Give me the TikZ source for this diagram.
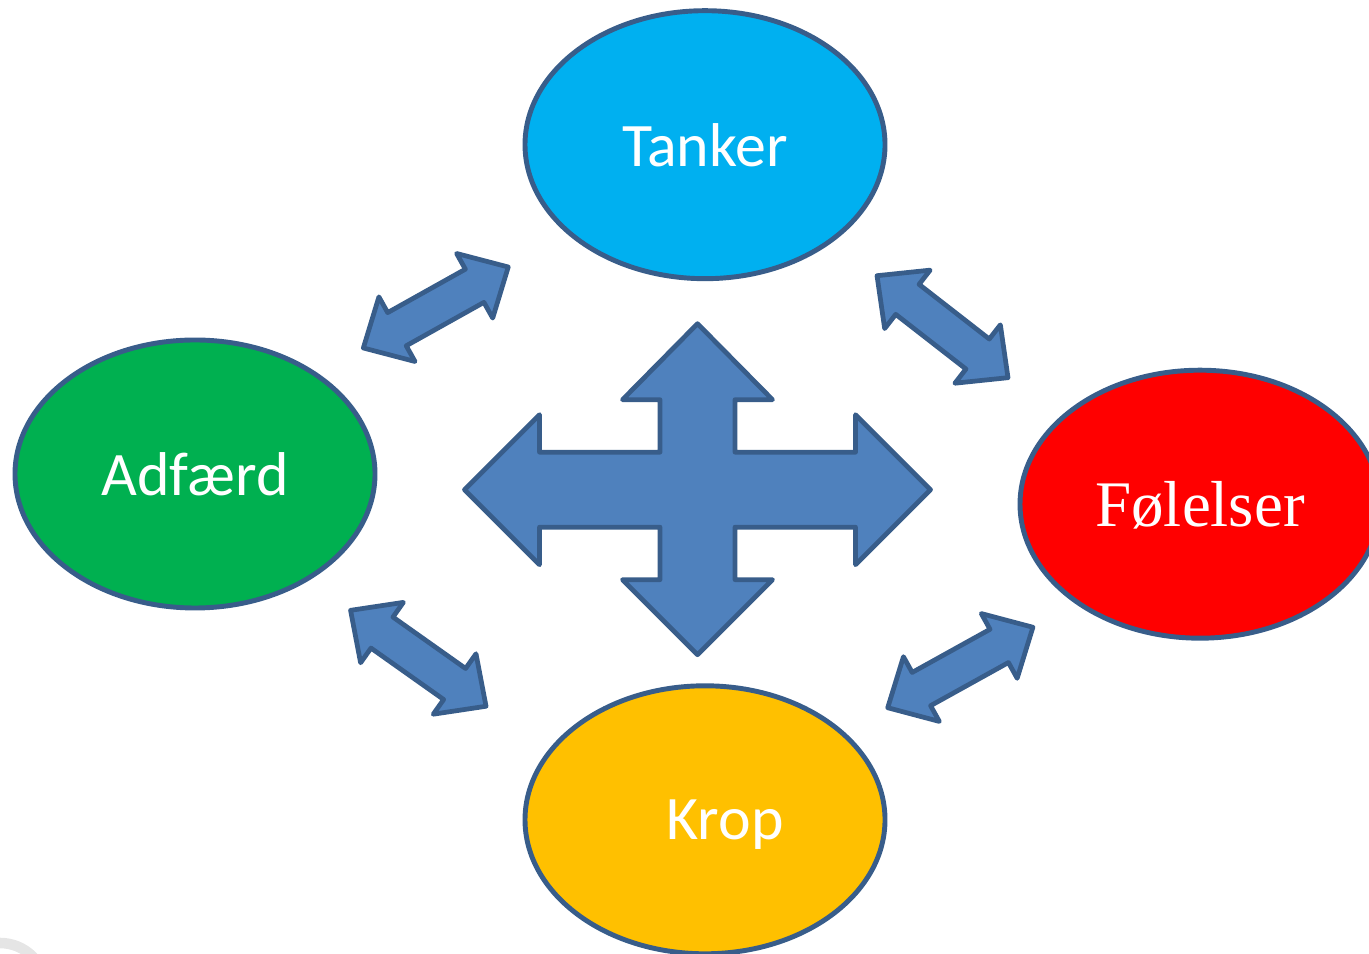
\documentclass[tikz,border=0pt]{standalone}
\usepackage{fontspec}
\setsansfont{Carlito}
\newfontfamily\timesfont{Liberation Serif}
\usepackage{tikz}
\usetikzlibrary{shapes.geometric}
\definecolor{tankerblue}{RGB}{0,176,240}
\definecolor{adfgreen}{RGB}{0,176,80}
\definecolor{folred}{RGB}{255,0,0}
\definecolor{kroporange}{RGB}{255,192,0}
\definecolor{rim}{RGB}{56,93,138}
\definecolor{arrowfill}{RGB}{79,129,189}

\begin{document}
\begin{tikzpicture}[
  blob/.style={ellipse, draw=rim, line width=1.4pt, minimum width=3.6cm, minimum height=2.68cm,
    inner sep=0pt, text=white, text depth=0pt, font=\sffamily\fontsize{17.6}{20}\selectfont},
  blockarrow/.style={fill=arrowfill, draw=rim, line width=1.35pt, line join=round},
  dblarrow/.pic={
    \draw[blockarrow] (0.83,0) -- (0.445,0.37) -- (0.445,0.19) -- (-0.445,0.19) -- (-0.445,0.37)
      -- (-0.83,0) -- (-0.445,-0.37) -- (-0.445,-0.19) -- (0.445,-0.19) -- (0.445,-0.37) -- cycle;
  }
]
  \clip (0,0) rectangle (13.69,-9.54);
  % corner shadow
  \draw[gray!20, line width=3pt] (-0.46,-9.89) arc[start angle=180, end angle=0, radius=0.46];
  % the four ellipses
  \node[blob, fill=tankerblue] (tanker) at (7.05,-1.447) {Tanker};
  \node[blob, fill=adfgreen] (adfaerd) at (1.95,-4.74) {Adfærd};
  \node[blob, fill=folred, font={\timesfont\fontsize{18.5}{22}\selectfont}] (folelser) at (12.00,-5.042) {Følelser};
  \node[blob, fill=kroporange] (krop) at (7.05,-8.198) {\hspace*{0.4cm}Krop};
  % centre cross
  \coordinate (hub) at (6.975,-4.897);
  \draw[blockarrow, shift={(hub)}] (2.33,0) -- (1.58,-0.75) -- (1.58,-0.375) -- (0.375,-0.375)
    -- (0.375,-0.90) -- (0.75,-0.90) -- (0,-1.65) -- (-0.75,-0.90) -- (-0.375,-0.90)
    -- (-0.375,-0.375) -- (-1.58,-0.375) -- (-1.58,-0.75) -- (-2.33,0) -- (-1.58,0.75)
    -- (-1.58,0.375) -- (-0.375,0.375) -- (-0.375,0.90) -- (-0.75,0.90) -- (0,1.66)
    -- (0.75,0.90) -- (0.375,0.90) -- (0.375,0.375) -- (1.58,0.375) -- (1.58,0.75) -- cycle;
  % double arrows between the ellipses
  \foreach \x/\y/\a in {4.358/-3.075/29.2, 9.425/-3.267/-37.9, 4.183/-6.583/-35.3, 9.603/-6.675/29} {
    \pic[rotate=\a] at (\x,\y) {dblarrow};
  }
\end{tikzpicture}
\end{document}
